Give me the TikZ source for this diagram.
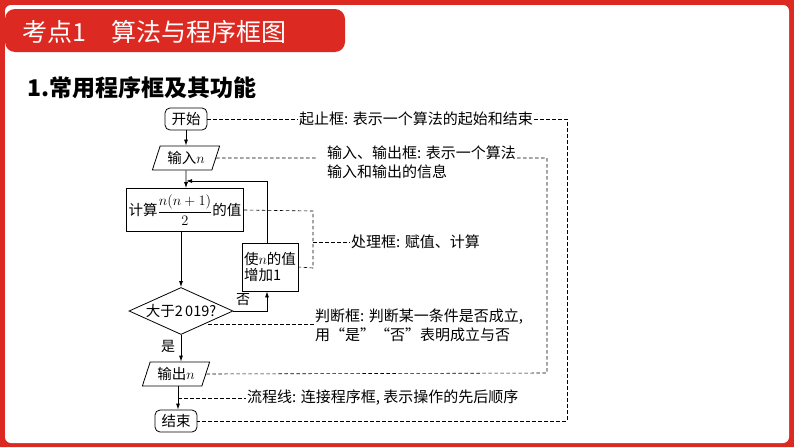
\documentclass[tikz,border=0pt]{standalone}
\usepackage{fontspec}
\setmainfont{Noto Sans CJK SC}
\usetikzlibrary{shapes.geometric,arrows.meta}
\definecolor{myred}{HTML}{DC2A22}
\begin{document}
\begin{tikzpicture}[x=1pt,y=-1pt,
  box/.style={draw,thick,font=\fontsize{14.5}{16}\selectfont,inner sep=2pt},
  para/.style={box,trapezium,trapezium left angle=72,trapezium right angle=108,inner xsep=0pt,minimum height=24},
  note/.style={font=\fontsize{15}{19}\selectfont,anchor=west,align=left,inner sep=1pt},
  dl/.style={dash pattern=on 3.5pt off 2.5pt,semithick,black},
  ar/.style={thick,-{Latex[length=6pt,width=4pt]}}]
\useasboundingbox (0,0) rectangle (794,447);
\fill[myred] (0,0) rectangle (794,447);
\fill[white,rounded corners=6] (5,5) rectangle (789,443);
\fill[myred,rounded corners=10] (5,9) rectangle (345,52);
\node[white,font=\fontsize{25}{27}\selectfont,anchor=west] (title) at (19,32) {考点1\quad 算法与程序框图};
\node[font=\fontsize{23}{25}\selectfont\bfseries,anchor=west] (sub) at (24,88) {1.常用程序框及其功能};

\node[box,rounded corners=5,minimum width=42,minimum height=22] (start) at (186,119) {开始};
\node[para,minimum width=52] (in) at (186,158) {输入$n$};
\node[box,minimum width=117,minimum height=43] (calc) at (185,210) {计算$\displaystyle\frac{n(n+1)}{2}$的值};
\node[box,align=left,minimum width=55,minimum height=48] (inc) at (270,267) {使$n$的值\\增加1};
\node[box,diamond,aspect=2.2,minimum width=104,minimum height=47,inner sep=0pt] (dec) at (181,311) {大于2\,019?};
\node[para,minimum width=52] (out) at (176,374) {输出$n$};
\node[box,rounded corners=5,minimum width=42,minimum height=22] (end) at (176,421) {结束};

\coordinate (j) at (186,181);
\draw[ar] (start) -- (in);
\draw[ar] (in.south) -- (j) -- (calc.north -| j);
\draw[ar] (inc.north -| 267,0) |- (j);
\draw[ar] (calc.south -| dec.north) -- (dec.north);
\draw[ar] (dec.east) -| (inc.south -| 267,0);
\node[font=\fontsize{14}{15}\selectfont] (no) at (243,300) {否};
\draw[ar] (dec.south) -- (out.north -| dec.south);
\node[font=\fontsize{14}{15}\selectfont] (yes) at (168,346) {是};
\coordinate (fl) at (178,398);
\draw[ar] (out.south -| fl) -- (end.north -| fl);

\node[note] (n1) at (298,119) {起止框: 表示一个算法的起始和结束};
\draw[dl] (start.east) -- (n1.west);
\draw[dl] (n1.east) -- (567,119) -- (567,421) -- (end.east);

\node[note] (n2) at (326,162) {输入、输出框: 表示一个算法\\输入和输出的信息};
\draw[dl] (in.east) -- (318,158);
\draw[dl] (n2.east |- 0,158) -- (547,158) -- (547,373) -- (out.east);

\node[note] (n3) at (350,242) {处理框: 赋值、计算};
\draw[dl] (calc.east) -- (313,211) -- (313,268) -- (inc.east);
\draw[dl] (313,242) -- (n3.west);

\node[note] (n4) at (314,325) {判断框: 判断某一条件是否成立,\\用“是”“否”表明成立与否};
\draw[dl] (208,324) -- (n4.west |- 0,324);

\node[note] (n5) at (246,398) {流程线: 连接程序框, 表示操作的先后顺序};
\draw[dl] (fl) -- (n5.west);
\end{tikzpicture}
\end{document}
